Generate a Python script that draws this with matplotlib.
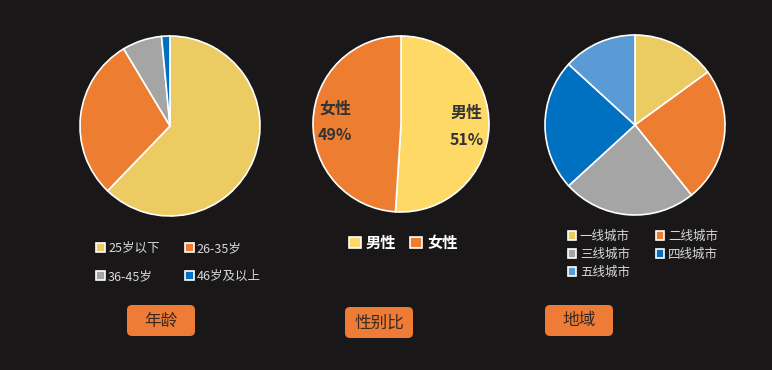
import matplotlib
matplotlib.use("Agg")
import matplotlib.pyplot as plt
from matplotlib.patches import FancyBboxPatch

plt.rcParams["font.family"] = ["Noto Sans CJK SC", "DejaVu Sans"]

BG = "#191718"
W, H = 772, 370

# data
age_labels = ["25岁以下", "26-35岁", "36-45岁", "46岁及以上"]
age_values = [62.2, 29.2, 7.1, 1.5]
age_colors = ["#ECCC62", "#ED7D31", "#A5A5A5", "#0070C0"]

gender_labels = ["男性", "女性"]
gender_values = [51, 49]
gender_colors = ["#FFD966", "#ED7D31"]

region_labels = ["一线城市", "二线城市", "三线城市", "四线城市", "五线城市"]
region_values = [15.0, 24.2, 24.0, 23.6, 13.2]
region_colors = ["#ECCC62", "#ED7D31", "#A5A5A5", "#0070C0", "#5B9BD5"]

titles = ["年龄", "性别比", "地域"]

fig = plt.figure(figsize=(W / 100, H / 100), dpi=100, facecolor=BG)

# pixel-space overlay for the title boxes and legend anchors
over = fig.add_axes([0, 0, 1, 1])
over.set_xlim(0, W)
over.set_ylim(H, 0)
over.axis("off")


def pie_axes(cx, cy, r):
    s = r * 1.03
    ax = fig.add_axes([(cx - s) / W, (H - cy - s) / H, 2 * s / W, 2 * s / H])
    ax.set_facecolor("none")
    return ax


def row_major(items):
    # legend fills columns first; reorder so two columns read left-to-right
    return items[0::2] + items[1::2]


wp = dict(edgecolor="white", linewidth=1.2)

# age
ax1 = pie_axes(170, 126, 90)
w1, _ = ax1.pie(age_values, colors=age_colors, startangle=90, counterclock=False,
                wedgeprops=wp)
ax1.set_xlim(-1.03, 1.03)
ax1.set_ylim(-1.03, 1.03)
over.legend(row_major(list(w1)), row_major(age_labels), ncol=2, loc="upper left",
            bbox_to_anchor=(96, 242), bbox_transform=over.transData, frameon=False,
            fontsize=9, labelcolor="#d9d9d9", borderpad=0, borderaxespad=0,
            handlelength=0.72, handleheight=0.72, handletextpad=0.25,
            columnspacing=2.0, labelspacing=1.2)

# gender
ax2 = pie_axes(401, 124, 88)
g_iter = iter(gender_labels)
w2, _, _ = ax2.pie(gender_values, colors=gender_colors, startangle=90, counterclock=False,
                   wedgeprops=wp, pctdistance=0.75,
                   autopct=lambda p: f"{next(g_iter)}\n{p:.0f}%",
                   textprops=dict(fontsize=11.5, fontweight="bold", color="#333333",
                                  linespacing=1.85))
ax2.set_xlim(-1.03, 1.03)
ax2.set_ylim(-1.03, 1.03)
fig.legend(w2, gender_labels, ncol=2, loc="upper left", bbox_to_anchor=(349, 235),
           bbox_transform=over.transData, frameon=False,
           prop=dict(size=11, weight="bold"), labelcolor="white",
           borderpad=0, borderaxespad=0, handlelength=0.78, handleheight=0.78,
           handletextpad=0.33, columnspacing=0.9)

# region
ax3 = pie_axes(635, 125, 90)
w3, _ = ax3.pie(region_values, colors=region_colors, startangle=90, counterclock=False,
                wedgeprops=wp)
ax3.set_xlim(-1.03, 1.03)
ax3.set_ylim(-1.03, 1.03)
fig.legend(row_major(list(w3)), row_major(region_labels), ncol=2, loc="upper left",
           bbox_to_anchor=(568, 230), bbox_transform=over.transData, frameon=False,
           fontsize=9, labelcolor="#d9d9d9", borderpad=0, borderaxespad=0,
           handlelength=0.65, handleheight=0.65, handletextpad=0.3,
           columnspacing=2.1, labelspacing=0.4)

# orange title boxes under each pie
for t, (bx, by) in zip(titles, [(127, 305), (345, 307), (545, 305)]):
    over.add_patch(FancyBboxPatch((bx, by), 68, 31, boxstyle="round,pad=0,rounding_size=5",
                                  fc="#EE7B36", ec="none"))
    over.text(bx + 34, by + 16, t, ha="center", va="center", fontsize=12, color="#3a2a20")

fig.savefig("out.png", dpi=100, facecolor=BG)
